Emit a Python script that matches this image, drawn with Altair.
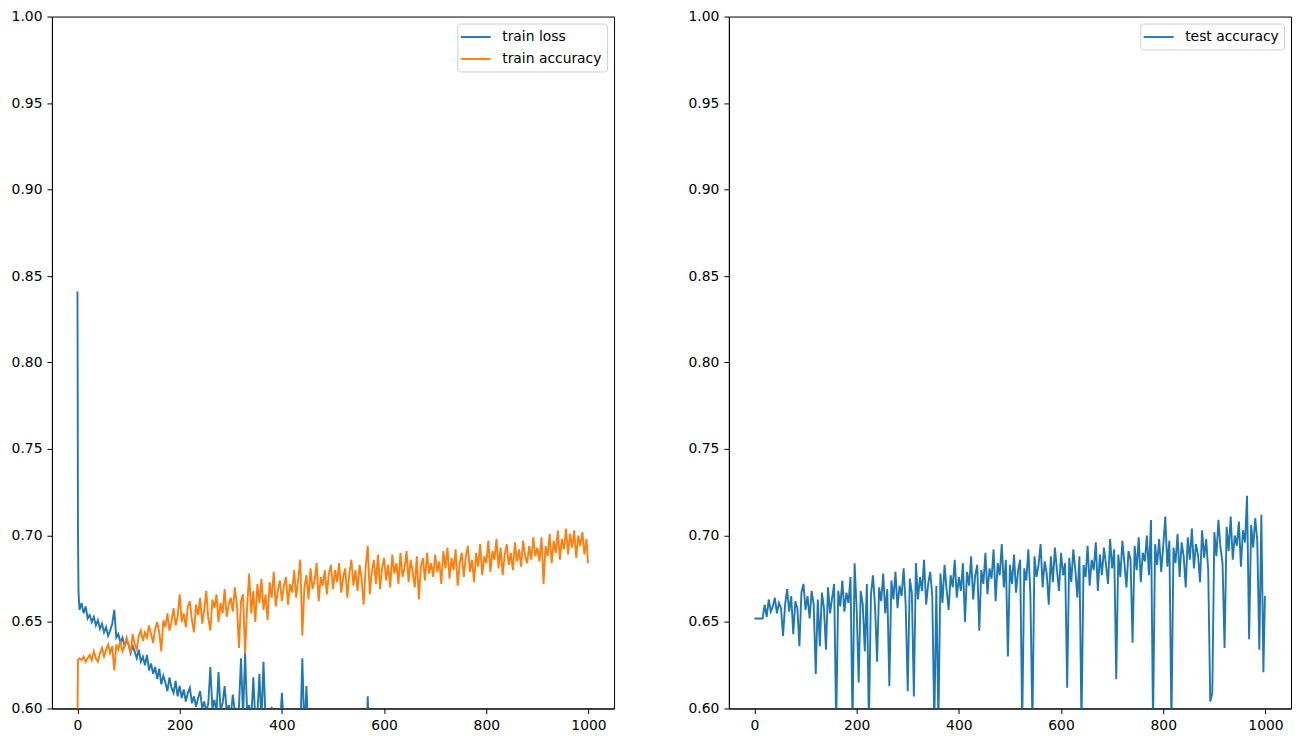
import altair as alt
import pandas as pd

# ---------------- data ----------------
train_acc_epochs = [0, 1] + list(range(4, 1000, 4)) + [999]
train_acc = [
    # 0..96
    0.595, 0.628, 0.629, 0.628, 0.630, 0.627, 0.629, 0.631, 0.628, 0.633, 0.629, 0.627, 0.632,
    0.635, 0.630, 0.634, 0.637, 0.632, 0.636, 0.622, 0.637, 0.634, 0.639, 0.633, 0.636, 0.641,
    # 100..196
    0.637, 0.632, 0.643, 0.637, 0.634, 0.642, 0.645, 0.639, 0.644, 0.641, 0.648, 0.643, 0.638,
    0.646, 0.650, 0.644, 0.633, 0.651, 0.647, 0.655, 0.645, 0.650, 0.658, 0.648, 0.653,
    # 200..296
    0.666, 0.650, 0.655, 0.647, 0.659, 0.662, 0.651, 0.644, 0.660, 0.654, 0.664, 0.649, 0.657,
    0.668, 0.652, 0.645, 0.663, 0.658, 0.666, 0.650, 0.661, 0.655, 0.669, 0.653, 0.660,
    # 300..396
    0.664, 0.656, 0.670, 0.660, 0.635, 0.662, 0.666, 0.632, 0.659, 0.678, 0.655, 0.668, 0.650,
    0.672, 0.661, 0.675, 0.657, 0.666, 0.651, 0.673, 0.664, 0.679, 0.659, 0.668, 0.674,
    # 400..496
    0.662, 0.671, 0.676, 0.660, 0.672, 0.667, 0.680, 0.664, 0.675, 0.686, 0.642, 0.670, 0.677,
    0.663, 0.681, 0.669, 0.674, 0.684, 0.662, 0.676, 0.671, 0.680, 0.666, 0.678, 0.683,
    # 500..596
    0.669, 0.680, 0.673, 0.684, 0.667, 0.676, 0.681, 0.664, 0.678, 0.686, 0.671, 0.680, 0.668,
    0.683, 0.675, 0.660, 0.682, 0.694, 0.666, 0.679, 0.686, 0.672, 0.689, 0.669, 0.681,
    # 600..696
    0.687, 0.674, 0.683, 0.670, 0.689, 0.678, 0.684, 0.672, 0.690, 0.676, 0.681, 0.691, 0.673,
    0.686, 0.679, 0.670, 0.688, 0.663, 0.682, 0.687, 0.674, 0.690, 0.678, 0.684, 0.676,
    # 700..796
    0.689, 0.679, 0.685, 0.672, 0.691, 0.681, 0.693, 0.675, 0.687, 0.680, 0.692, 0.671, 0.684,
    0.690, 0.676, 0.688, 0.694, 0.679, 0.686, 0.673, 0.690, 0.682, 0.695, 0.677, 0.688,
    # 800..896
    0.684, 0.697, 0.679, 0.691, 0.686, 0.698, 0.681, 0.693, 0.677, 0.689, 0.695, 0.683, 0.690,
    0.680, 0.696, 0.685, 0.692, 0.682, 0.697, 0.688, 0.684, 0.694, 0.686, 0.699, 0.688,
    # 900..996, 999
    0.693, 0.685, 0.699, 0.672, 0.694, 0.688, 0.701, 0.684, 0.697, 0.690, 0.703, 0.686, 0.698,
    0.692, 0.704, 0.689, 0.701, 0.693, 0.703, 0.687, 0.700, 0.694, 0.702, 0.689, 0.698, 0.684,
]

train_loss_epochs = [0, 1, 2, 3] + list(range(4, 600, 4)) + list(range(600, 1000, 20)) + [999]
train_loss = [
    # 0..96
    0.841, 0.700, 0.668, 0.662, 0.657, 0.661, 0.655, 0.659, 0.652, 0.654, 0.650, 0.653, 0.648, 0.651,
    0.646, 0.649, 0.644, 0.647, 0.642, 0.645, 0.649, 0.657, 0.641, 0.643, 0.638, 0.641, 0.636, 0.639,
    # 100..196
    0.637, 0.632, 0.636, 0.633, 0.629, 0.634, 0.627, 0.630, 0.625, 0.631, 0.622, 0.626, 0.620,
    0.624, 0.617, 0.623, 0.614, 0.619, 0.615, 0.610, 0.618, 0.612, 0.609, 0.616, 0.607,
    # 200..296
    0.613, 0.606, 0.611, 0.604, 0.609, 0.612, 0.603, 0.607, 0.601, 0.606, 0.610, 0.600, 0.604,
    0.598, 0.603, 0.624, 0.600, 0.605, 0.597, 0.621, 0.599, 0.603, 0.613, 0.598, 0.602,
    # 300..396
    0.596, 0.608, 0.598, 0.594, 0.601, 0.629, 0.595, 0.632, 0.597, 0.602, 0.593, 0.618, 0.594,
    0.596, 0.620, 0.592, 0.627, 0.593, 0.598, 0.590, 0.601, 0.591, 0.589, 0.600, 0.588,
    # 400..496
    0.609, 0.589, 0.587, 0.590, 0.586, 0.588, 0.585, 0.587, 0.584, 0.586, 0.629, 0.585, 0.613,
    0.583, 0.586, 0.582, 0.585, 0.581, 0.584, 0.580, 0.583, 0.579, 0.582, 0.578, 0.581,
    # 500..596
    0.577, 0.580, 0.576, 0.579, 0.575, 0.578, 0.574, 0.577, 0.573, 0.576, 0.572, 0.575, 0.571,
    0.574, 0.570, 0.573, 0.569, 0.607, 0.568, 0.571, 0.567, 0.570, 0.566, 0.569, 0.565,
    # 600..980 (step 20), 999
    0.566, 0.563, 0.565, 0.561, 0.563, 0.559, 0.561, 0.557, 0.559, 0.555,
    0.557, 0.553, 0.555, 0.551, 0.553, 0.549, 0.551, 0.547, 0.549, 0.545, 0.547,
]

test_acc_epochs = list(range(0, 1000, 4)) + [999]
test_acc = [
    # 0..96
    0.652, 0.652, 0.652, 0.652, 0.652, 0.660, 0.653, 0.663, 0.656, 0.659, 0.664, 0.655, 0.661,
    0.658, 0.642, 0.660, 0.669, 0.656, 0.665, 0.643, 0.662, 0.658, 0.636, 0.667, 0.672,
    # 100..196
    0.657, 0.665, 0.652, 0.668, 0.660, 0.620, 0.663, 0.636, 0.667, 0.658, 0.634, 0.670, 0.655,
    0.664, 0.672, 0.590, 0.668, 0.659, 0.674, 0.656, 0.667, 0.661, 0.676, 0.590, 0.684,
    # 200..296
    0.658, 0.615, 0.668, 0.660, 0.633, 0.672, 0.590, 0.666, 0.677, 0.659, 0.627, 0.670, 0.662,
    0.678, 0.655, 0.669, 0.613, 0.674, 0.663, 0.679, 0.658, 0.671, 0.665, 0.681, 0.660,
    # 300..396
    0.610, 0.675, 0.667, 0.607, 0.684, 0.663, 0.676, 0.668, 0.686, 0.660, 0.672, 0.679, 0.665,
    0.590, 0.671, 0.590, 0.678, 0.661, 0.683, 0.669, 0.657, 0.677, 0.670, 0.686, 0.664,
    # 400..496
    0.676, 0.668, 0.684, 0.650, 0.679, 0.671, 0.688, 0.663, 0.677, 0.683, 0.645, 0.680, 0.672,
    0.690, 0.666, 0.681, 0.675, 0.692, 0.662, 0.684, 0.677, 0.695, 0.670, 0.686, 0.630,
    # 500..596
    0.683, 0.672, 0.689, 0.667, 0.680, 0.686, 0.590, 0.681, 0.674, 0.692, 0.666, 0.590, 0.688,
    0.676, 0.683, 0.695, 0.670, 0.685, 0.678, 0.660, 0.688, 0.673, 0.693, 0.680, 0.668,
    # 600..696
    0.690, 0.677, 0.684, 0.612, 0.687, 0.673, 0.692, 0.680, 0.664, 0.688, 0.590, 0.683, 0.676,
    0.694, 0.671, 0.686, 0.680, 0.696, 0.668, 0.689, 0.677, 0.693, 0.683, 0.672, 0.698,
    # 700..796
    0.681, 0.692, 0.617, 0.689, 0.676, 0.697, 0.684, 0.670, 0.691, 0.686, 0.638, 0.694, 0.680,
    0.699, 0.673, 0.690, 0.685, 0.700, 0.677, 0.709, 0.590, 0.695, 0.683, 0.698, 0.679,
    # 800..896
    0.694, 0.711, 0.682, 0.697, 0.590, 0.693, 0.684, 0.701, 0.676, 0.696, 0.688, 0.670, 0.699,
    0.686, 0.704, 0.681, 0.695, 0.689, 0.673, 0.703, 0.687, 0.698, 0.680, 0.604, 0.609,
    # 900..996, 999
    0.702, 0.688, 0.709, 0.693, 0.684, 0.635, 0.705, 0.691, 0.711, 0.686, 0.700, 0.694, 0.708,
    0.682, 0.703, 0.696, 0.723, 0.640, 0.706, 0.693, 0.710, 0.697, 0.634, 0.712, 0.621, 0.665,
]

x_ticks = [0, 200, 400, 600, 800, 1000]
y_ticks = [0.60, 0.65, 0.70, 0.75, 0.80, 0.85, 0.90, 0.95, 1.00]

BLUE = "#1f77b4"
ORANGE = "#ff7f0e"
FONT = "DejaVu Sans"

left_df = pd.concat([
    pd.DataFrame({"epoch": train_loss_epochs, "value": train_loss, "series": "train loss"}),
    pd.DataFrame({"epoch": train_acc_epochs, "value": train_acc, "series": "train accuracy"}),
], ignore_index=True)
right_df = pd.DataFrame({"epoch": test_acc_epochs, "value": test_acc, "series": "test accuracy"})


def panel(df, domain, colors):
    return alt.Chart(df).mark_line(clip=True, strokeWidth=1.9).encode(
        x=alt.X("epoch:Q", title=None,
                scale=alt.Scale(domain=[-50, 1050], nice=False, zero=False),
                axis=alt.Axis(values=x_ticks, format="d")),
        y=alt.Y("value:Q", title=None,
                scale=alt.Scale(domain=[0.6, 1.0], nice=False, zero=False),
                axis=alt.Axis(values=y_ticks, format=".2f", minExtent=41, maxExtent=41)),
        color=alt.Color("series:N", sort=domain,
                        scale=alt.Scale(domain=domain, range=colors),
                        legend=alt.Legend(title=None, orient="top-right")),
        detail="series:N",
    ).properties(width=563, height=693)


left = panel(left_df, ["train loss", "train accuracy"], [BLUE, ORANGE])
right = panel(right_df, ["test accuracy"], [BLUE])

chart = alt.hconcat(left, right, spacing=72).resolve_scale(
    color="independent"
).resolve_legend(color="independent").properties(
    padding={"left": 2, "top": 0, "right": 0, "bottom": 0}
).configure_view(
    stroke="black", strokeWidth=1
).configure_axis(
    grid=False, domain=True, domainColor="black", tickColor="black",
    tickSize=5, labelPadding=5, labelColor="black", labelFont=FONT,
    labelFontSize=13.9,
).configure_legend(
    offset=7, padding=5, strokeColor="#d0d0d0", fillColor="rgba(255,255,255,0.8)",
    cornerRadius=3, labelFont=FONT, labelFontSize=13.9, labelColor="black",
    symbolType="M-2,0L2,0", symbolSize=225, symbolStrokeWidth=1.9,
    symbolOffset=5, labelOffset=18, rowPadding=6, labelLimit=300,
)

chart.save("out.html", embed_options={"renderer": "svg", "actions": False})
